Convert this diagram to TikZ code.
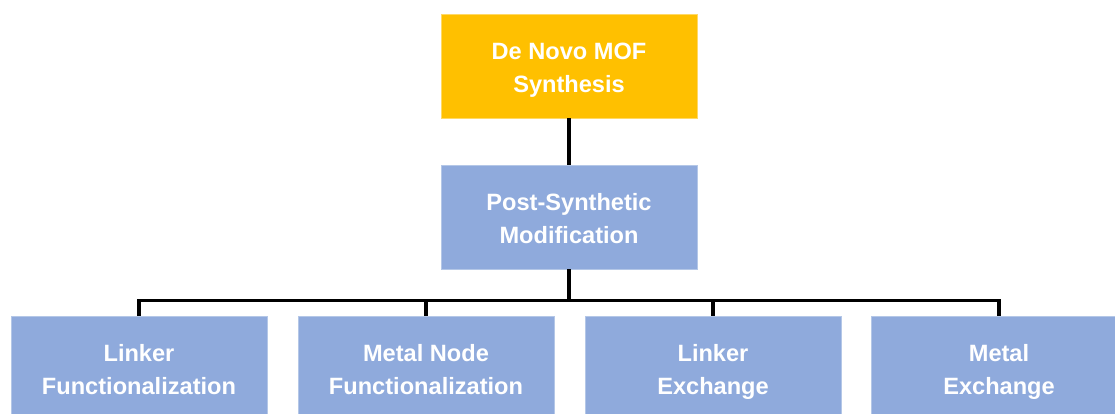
\documentclass[tikz,border=0pt]{standalone}
\usepackage{fontspec}
\setmainfont{Liberation Sans}
\definecolor{gold}{HTML}{FFC000}
\definecolor{bluebox}{HTML}{8FAADC}
\definecolor{goldedge}{HTML}{FFD966}
\definecolor{blueedge}{HTML}{B4C7E7}
\newcommand\mystr{\rule[-6pt]{0pt}{32pt}}
\begin{document}
\begin{tikzpicture}[x=1pt,y=1pt,
  box/.style={minimum width=256pt,minimum height=104pt,inner sep=0pt,align=center,
    text=white,font=\fontsize{23.6}{33}\selectfont\bfseries,line width=0.8pt},
  goldbox/.style={box,fill=gold,draw=goldedge},
  bluebx/.style={box,fill=bluebox,draw=blueedge},
  conn/.style={line width=3.2pt,draw=black}]
\path[use as bounding box,clip] (0,0) rectangle (1115,-414);
\fill[white] (0,0) rectangle (1115,-414);
\node[goldbox] (top) at (569,-66) {\mystr De Novo MOF\\\mystr Synthesis};
\node[bluebx] (mid) at (569,-217) {\mystr Post-Synthetic\\\mystr Modification};
\node[bluebx] (b1) at (139,-368) {\mystr Linker\\\mystr Functionalization};
\node[bluebx] (b2) at (426,-368) {\mystr Metal Node\\\mystr Functionalization};
\node[bluebx] (b3) at (713,-368) {\mystr Linker\\\mystr Exchange};
\node[bluebx] (b4) at (999,-368) {\mystr Metal\\\mystr Exchange};
\coordinate (bar) at (569,-300.5);
\draw[conn] (top.south) -- (mid.north);
\draw[conn] (mid.south) -- (bar);
\draw[conn] (bar) -| (b1.north);
\draw[conn] (bar) -| (b2.north);
\draw[conn] (bar) -| (b3.north);
\draw[conn] (bar) -| (b4.north);
\end{tikzpicture}
\end{document}
